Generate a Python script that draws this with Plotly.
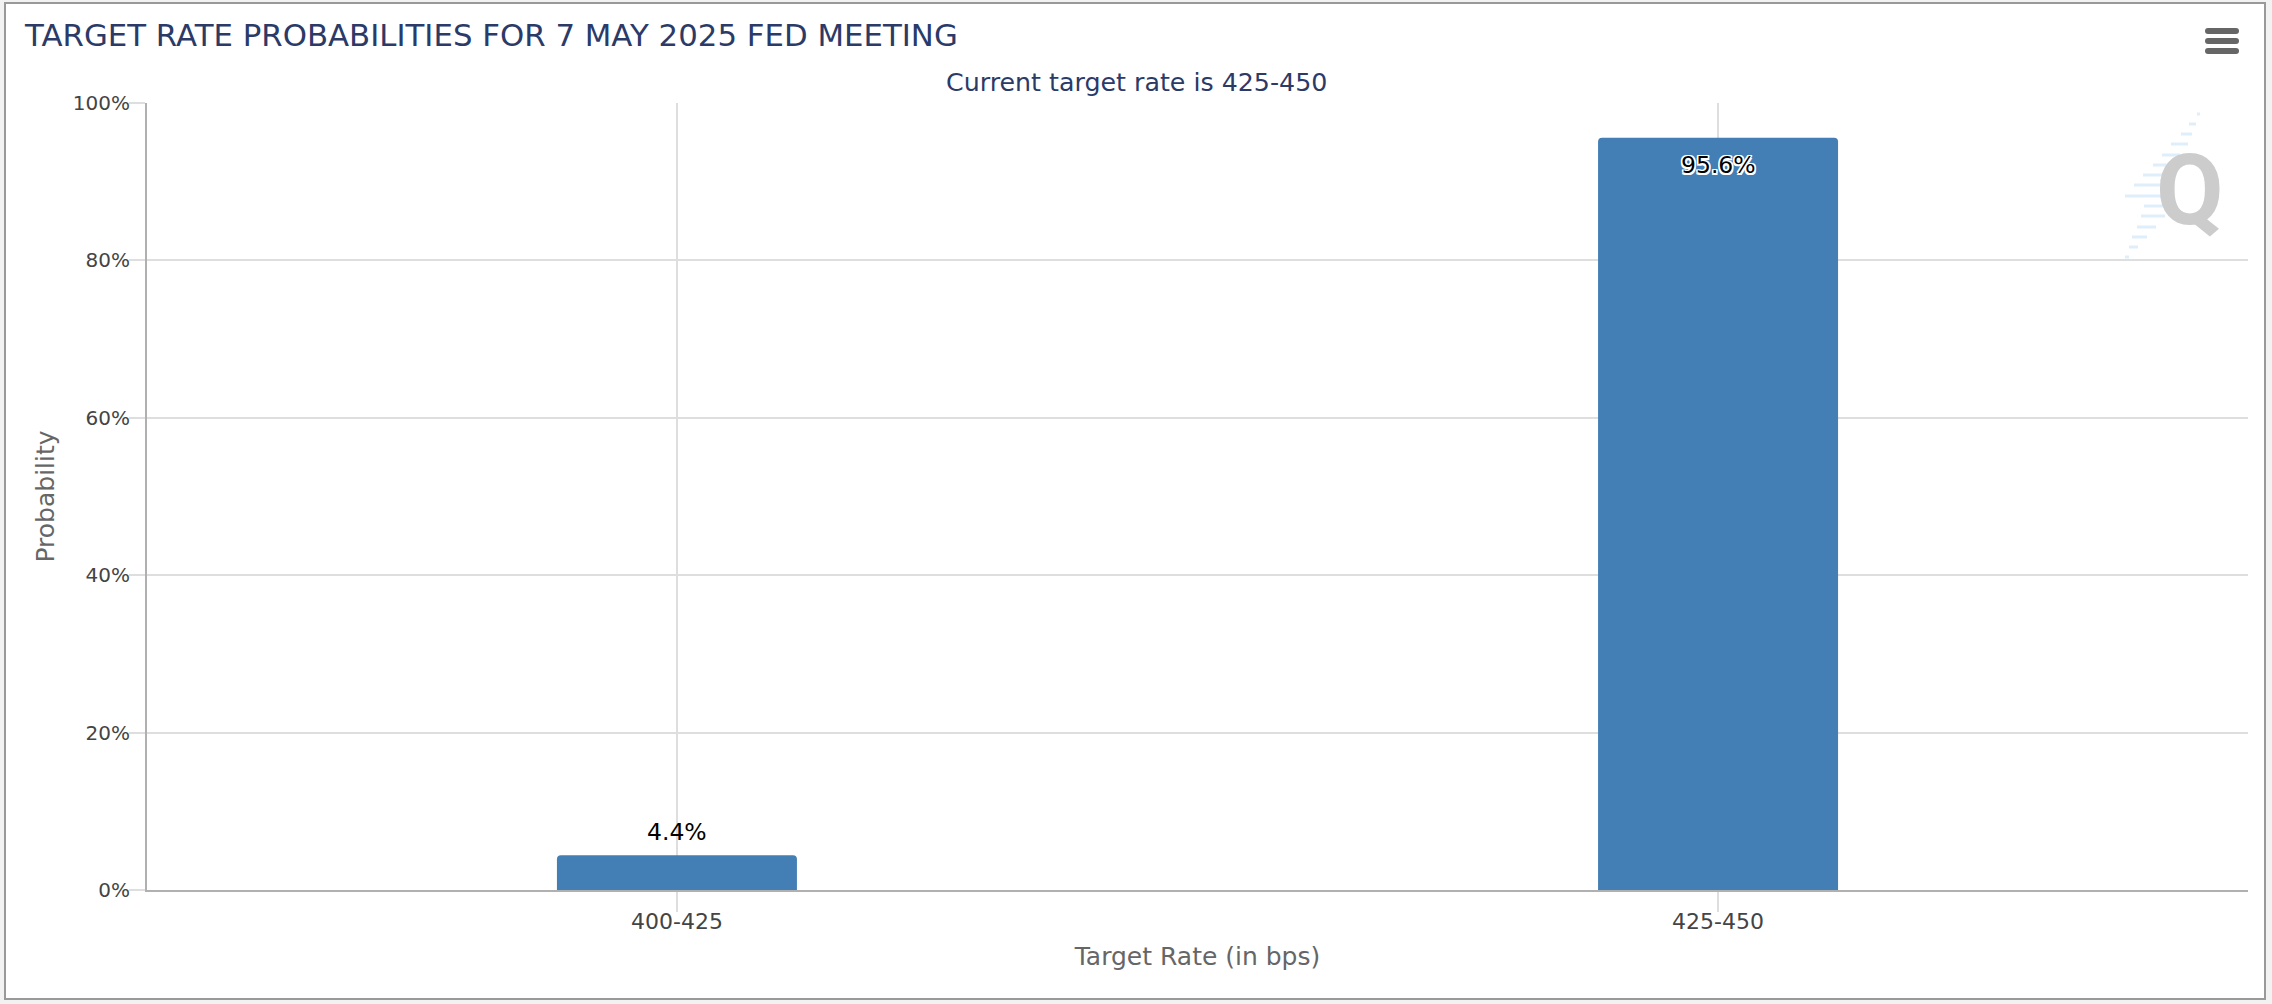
import plotly.graph_objects as go

# chart values
categories = ["400-425", "425-450"]
probabilities = [4.4, 95.6]
y_ticks = [0, 20, 40, 60, 80, 100]
y_tick_labels = ["0%", "20%", "40%", "60%", "80%", "100%"]

TITLE = "TARGET RATE PROBABILITIES FOR 7 MAY 2025 FED MEETING"
SUBTITLE = "Current target rate is 425-450"

WIDTH = 2272
HEIGHT = 1004
MARGINS = dict(l=147, r=24, t=103, b=114)

FONT = "DejaVu Sans"
NAVY = "#2b3a67"
HALO = ",".join(f"{a}px {b}px 0 #fff" for a in (-1.5, 0, 1.5) for b in (-1.5, 0, 1.5))

# watermark streaks behind the Q: pixel y, x start, x end
streaks = [
    (114, 2197, 2200), (124, 2189, 2196), (134, 2181, 2192), (144, 2171, 2188),
    (155, 2162, 2180), (165, 2153, 2170), (175, 2143, 2165), (185, 2134, 2165),
    (196, 2125, 2165), (206, 2144, 2165), (216, 2141, 2165), (227, 2137, 2156),
    (237, 2132, 2147), (247, 2129, 2138), (257, 2125, 2129),
]


def px(x):
    return (x - MARGINS["l"]) / (WIDTH - MARGINS["l"] - MARGINS["r"])


def py(y):
    return 1 - (y - MARGINS["t"]) / (HEIGHT - MARGINS["t"] - MARGINS["b"])


def paper_rect(x0, y0, x1, y1, **kwargs):
    return dict(type="rect", xref="paper", yref="paper",
                x0=px(x0), x1=px(x1), y0=py(y0), y1=py(y1), **kwargs)


def pill(x0, y0, x1, y1):
    # rounded bar of the menu icon
    r = (y1 - y0) / 2
    path = (
        f"M {px(x0 + r)} {py(y0)} L {px(x1 - r)} {py(y0)} "
        f"Q {px(x1)} {py(y0)} {px(x1)} {py(y0 + r)} Q {px(x1)} {py(y1)} {px(x1 - r)} {py(y1)} "
        f"L {px(x0 + r)} {py(y1)} "
        f"Q {px(x0)} {py(y1)} {px(x0)} {py(y0 + r)} Q {px(x0)} {py(y0)} {px(x0 + r)} {py(y0)} Z"
    )
    return dict(type="path", xref="paper", yref="paper", path=path,
                fillcolor="#666666", line=dict(width=0))


fig = go.Figure()

fig.add_trace(go.Bar(
    x=categories,
    y=probabilities,
    width=0.2305,
    marker=dict(color="#437eb4", line=dict(width=0)),
    hoverinfo="x+y",
))

# frame of the chart box, then the menu icon and the watermark
shapes = [paper_rect(5, 3, 2265, 999, fillcolor="#ffffff",
                     line=dict(color="#999999", width=2), layer="below")]
shapes += [pill(2205, top, 2239, top + 6) for top in (28, 38, 48)]
for y, x0, x1 in streaks:
    shapes.append(paper_rect(x0, y - 1.5, x1, y + 1.5, fillcolor="#deeffb",
                             line=dict(width=0), layer="below"))

annotations = [
    dict(text=SUBTITLE, xref="paper", yref="paper", x=px(1136), y=py(83),
         xanchor="center", yanchor="middle", showarrow=False,
         font=dict(family=FONT, size=25.3, color=NAVY)),
    dict(text="Q", xref="paper", yref="paper", x=px(2190), y=py(190),
         xanchor="center", yanchor="middle", showarrow=False,
         font=dict(family="Roboto", size=98, color="#cccccc", weight=700)),
]
# value labels sit just over the short bar and just inside the tall one
for cat, value in zip(categories, probabilities):
    inside = value > 50
    annotations.append(dict(
        text=f"{value}%", x=cat, y=value, xref="x", yref="y", showarrow=False,
        yshift=-27 if inside else 23,
        font=dict(family=FONT, size=23.5, color="#000000", shadow=HALO if inside else "none"),
    ))

fig.update_layout(
    width=WIDTH,
    height=HEIGHT,
    margin=MARGINS,
    paper_bgcolor="#f2f2f2",
    plot_bgcolor="rgba(0,0,0,0)",
    barcornerradius=4,
    showlegend=False,
    font=dict(family=FONT),
    title=dict(text=TITLE, xref="container", yref="container", x=25 / WIDTH, xanchor="left",
               y=1 - 35 / HEIGHT, yanchor="middle",
               font=dict(family=FONT, size=30.8, color=NAVY)),
    shapes=shapes,
    annotations=annotations,
)

fig.update_xaxes(
    type="category",
    range=[-0.509, 1.509],
    showgrid=True, gridcolor="#dedede", gridwidth=2,
    showline=True, linecolor="#b0b0b0", linewidth=2,
    ticks="outside", ticklen=20, tickwidth=2, tickcolor="#dedede",
    ticklabelstandoff=-9,
    tickfont=dict(size=22, color="#444444"),
    title=dict(text="Target Rate (in bps)", standoff=14, font=dict(size=25, color="#666666")),
)

fig.update_yaxes(
    range=[0, 100],
    tickvals=y_ticks,
    ticktext=y_tick_labels,
    showgrid=True, gridcolor="#dedede", gridwidth=2,
    zeroline=False,
    showline=True, linecolor="#b0b0b0", linewidth=2,
    ticks="outside", ticklen=16, tickwidth=2, tickcolor="#dedede",
    ticklabelstandoff=-5,
    tickfont=dict(size=20, color="#444444"),
    title=dict(text="Probability", standoff=11, font=dict(size=25, color="#666666")),
)

fig.write_html("out.html", config=dict(displayModeBar=False),
               post_script="document.body.style.margin='0';")
